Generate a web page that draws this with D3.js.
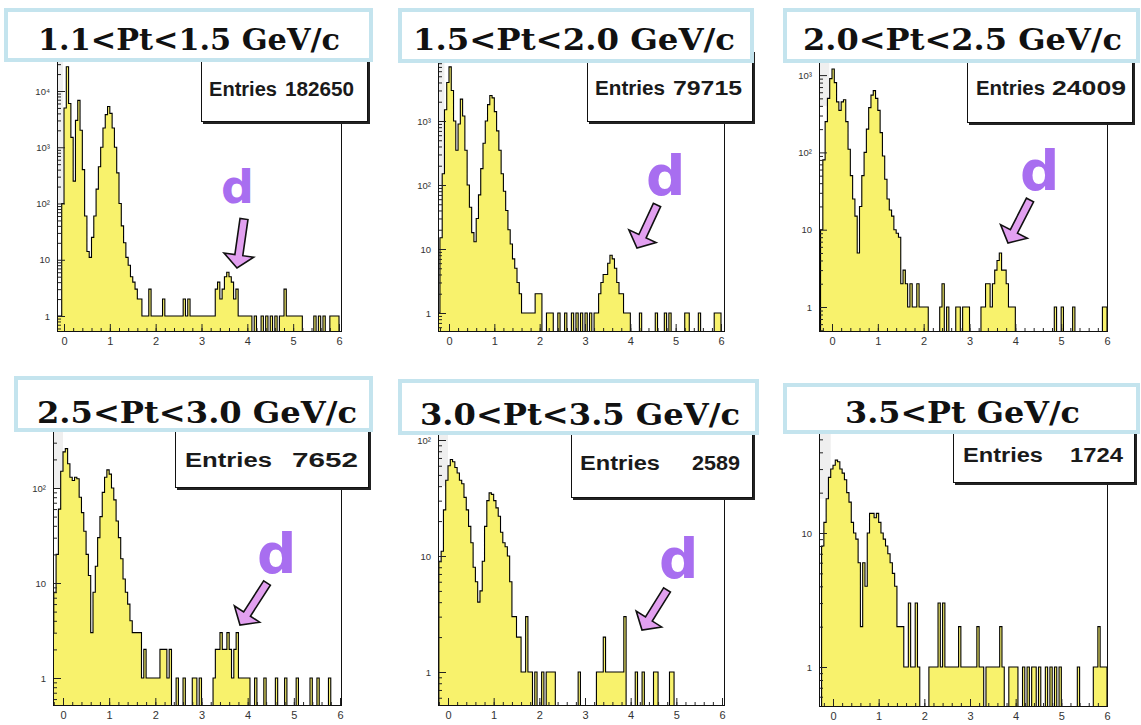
<!DOCTYPE html>
<html><head><meta charset="utf-8">
<script src="https://cdn.jsdelivr.net/npm/d3@7"></script>
<style>body{margin:0;background:#fff;} svg{display:block;}</style>
</head><body>
<svg id="chart" width="1141" height="725"></svg>
<script>
// ---------- DATA ----------
const binStart = -0.25, binWidth = 0.05;   // histogram binning (x = m^2)
const titles = ["1.1<Pt<1.5 GeV/c", "1.5<Pt<2.0 GeV/c", "2.0<Pt<2.5 GeV/c",
                "2.5<Pt<3.0 GeV/c", "3.0<Pt<3.5 GeV/c", "3.5<Pt GeV/c"];
const entries = [182650, 79715, 24009, 7652, 2589, 1724];
const xTickLabels = [0, 1, 2, 3, 4, 5, 6];
const yDecades = [[0,1,2,3,4],[0,1,2,3],[0,1,2,3],[0,1,2],[0,1,2],[0,1]];
const hasDeuteronMark = [true, true, true, true, true, false];

// counts per bin, rows of 10 bins (0.5 wide) starting at -0.25
const counts1 = [
  0, 0, 1, 1, 100, 5000, 27000, 6000, 1500, 250,
  3000, 6800, 2000, 400, 60, 14, 11, 25, 60, 180,
  450, 1000, 2200, 3800, 5300, 4000, 2200, 1000, 350, 100,
  40, 20, 11, 8, 5, 4, 3, 2, 2, 1,
  1, 1, 3, 1, 1, 1, 1, 1, 2, 1,
  1, 1, 1, 1, 1, 1, 1, 2, 1, 2,
  1, 1, 1, 1, 1, 1, 1, 1, 1, 1,
  1, 3, 4, 2, 3, 5, 6, 5, 4, 2,
  3, 1, 1, 1, 1, 1, 1, 0, 1, 0,
  0, 1, 0, 1, 0, 1, 0, 1, 0, 1,
  1, 3, 1, 1, 1, 1, 1, 1, 1, 0,
  0, 0, 0, 0, 1, 0, 1, 0, 1, 0,
  0, 1, 1, 1, 1, 0];
const counts2 = [
  1, 15, 150, 1500, 4000, 7000, 3000, 1000, 350, 900,
  2200, 1200, 350, 100, 45, 18, 13, 30, 70, 180,
  450, 1000, 1800, 2500, 2300, 1400, 700, 350, 150, 80,
  40, 20, 12, 7, 5, 3, 2, 1, 1, 1,
  1, 1, 1, 2, 2, 2, 0, 0, 1, 1,
  1, 0, 0, 1, 0, 0, 1, 0, 0, 1,
  0, 1, 0, 1, 0, 1, 0, 1, 0, 1,
  1, 2, 3, 4, 4, 6, 8, 7, 5, 3,
  2, 2, 1, 1, 1, 0, 0, 0, 0, 1,
  0, 0, 0, 0, 0, 0, 1, 0, 0, 0,
  1, 0, 1, 0, 0, 0, 0, 0, 0, 1,
  1, 0, 0, 0, 0, 1, 0, 0, 0, 0,
  0, 0, 1, 1, 1, 0];
const counts3 = [
  10, 80, 250, 500, 900, 1200, 800, 450, 350, 450,
  480, 250, 110, 50, 25, 15, 5, 20, 50, 100,
  200, 380, 550, 630, 500, 350, 180, 90, 45, 25,
  18, 15, 10, 9, 8, 2, 3, 2, 1, 2,
  1, 1, 2, 1, 1, 1, 1, 0, 0, 0,
  0, 0, 1, 2, 0, 1, 0, 0, 0, 1,
  1, 0, 1, 1, 1, 0, 0, 0, 0, 0,
  1, 1, 2, 2, 1, 2, 3, 4, 5, 3,
  3, 2, 1, 1, 1, 0, 0, 0, 0, 0,
  0, 0, 0, 0, 0, 0, 0, 0, 0, 0,
  0, 0, 1, 0, 0, 1, 0, 0, 0, 0,
  1, 0, 0, 0, 0, 0, 0, 0, 0, 0,
  0, 0, 0, 1, 1, 0];
const counts4 = [
  3, 8, 20, 60, 150, 240, 260, 180, 130, 120,
  130, 125, 80, 55, 35, 20, 12, 3, 8, 15,
  30, 50, 90, 130, 155, 140, 100, 75, 45, 30,
  18, 11, 8, 6, 4, 3, 3, 3, 3, 1,
  2, 1, 1, 1, 1, 1, 1, 2, 2, 2,
  1, 2, 0, 0, 1, 0, 0, 1, 0, 0,
  0, 1, 1, 0, 1, 0, 0, 0, 0, 0,
  1, 2, 2, 3, 2, 2, 3, 2, 1, 2,
  3, 1, 1, 1, 1, 1, 0, 0, 1, 0,
  0, 0, 1, 0, 0, 0, 0, 1, 0, 0,
  0, 1, 0, 0, 0, 0, 1, 0, 0, 0,
  0, 0, 1, 0, 0, 1, 0, 0, 0, 0,
  1, 0, 0, 0, 0, 0];
const counts5 = [
  0, 9, 11, 25, 45, 60, 68, 65, 58, 52,
  45, 42, 32, 25, 18, 13, 8, 6, 4, 5,
  9, 18, 30, 35, 34, 30, 26, 22, 16, 13,
  12, 10, 6, 3, 3, 2, 2, 1, 1, 3,
  1, 1, 0, 1, 0, 0, 1, 0, 1, 1,
  1, 1, 0, 0, 0, 0, 0, 0, 0, 0,
  0, 0, 1, 0, 0, 0, 0, 0, 0, 0,
  1, 1, 1, 2, 1, 1, 1, 1, 1, 1,
  1, 1, 3, 0, 0, 0, 0, 1, 0, 0,
  1, 0, 0, 0, 0, 1, 1, 0, 0, 0,
  0, 0, 1, 1, 0, 0, 0, 0, 0, 0,
  0, 0, 0, 0, 0, 0, 0, 0, 0, 0,
  0, 0, 0, 0, 0, 0];
const counts6 = [
  8, 12, 18, 26, 30, 32, 35, 34, 30, 28,
  25, 20, 17, 12, 10, 9, 6, 2, 6, 4,
  10, 14, 14, 13, 14, 12, 10, 9, 8, 7,
  6, 5, 4, 2, 2, 2, 1, 1, 3, 1,
  1, 3, 1, 0, 0, 0, 0, 1, 1, 1,
  1, 3, 1, 3, 1, 1, 1, 1, 1, 1,
  2, 1, 1, 1, 1, 1, 1, 1, 2, 1,
  1, 0, 1, 1, 1, 1, 1, 1, 2, 1,
  0, 0, 1, 1, 1, 1, 0, 0, 1, 0,
  1, 0, 1, 1, 0, 1, 0, 0, 1, 0,
  1, 0, 1, 0, 1, 0, 0, 0, 0, 0,
  0, 0, 1, 0, 0, 0, 0, 0, 0, 1,
  1, 2, 1, 1, 1, 0];
const allCounts = [counts1, counts2, counts3, counts4, counts5, counts6];

// ---------- LAYOUT (pixels / styling) ----------
const layout = [
 {frame:{l:57,r:342,t:60,b:332}, x0:64, x6:339, y1:316, dec:56.25, shade:[-0.02, 100],
  tbox:[4,8,373,62], ttext:[38,50,302], sbox:[201,50,368,122],
  stext:{y:96,a:[209,68],b:[285,69]}, d:{x:221,y:203,size:46}, arrow:[[244,219],[237,268]]},
 {frame:{l:438,r:725,t:60,b:332}, x0:449, x6:721, y1:313, dec:64, shade:[-0.1, 100],
  tbox:[398,8,754,63], ttext:[413,50,322], sbox:[587,50,753,122],
  stext:{y:95,a:[595,70],b:[673,69]}, d:{x:646,y:195,size:55}, arrow:[[657,205],[637,248]]},
 {frame:{l:819,r:1108,t:60,b:332}, x0:832, x6:1107, y1:307, dec:77.3, shade:[-0.06, 400],
  tbox:[783,8,1140,63], ttext:[803,50,319], sbox:[967,50,1133,123],
  stext:{y:95,a:[976,69],b:[1052,74]}, d:{x:1020,y:190,size:55}, arrow:[[1030,200],[1008,243]]},
 {frame:{l:53,r:342,t:430,b:706}, x0:63, x6:340, y1:678, dec:95, shade:[0.0, 100],
  tbox:[14,376,373,432], ttext:[37,423,320], sbox:[175,420,369,488],
  stext:{y:467,a:[185,87],b:[292,66]}, d:{x:257,y:573,size:55}, arrow:[[267,583],[240,625]]},
 {frame:{l:438,r:725,t:434,b:706}, x0:448, x6:722, y1:672, dec:116, shade:[0.0, 40],
  tbox:[398,379,759,435], ttext:[420,425,320], sbox:[571,420,753,498],
  stext:{y:470,a:[580,80],b:[692,48]}, d:{x:659,y:578,size:55}, arrow:[[667,590],[642,630]]},
 {frame:{l:819,r:1108,t:432,b:707}, x0:833, x6:1107, y1:667, dec:134, shade:[-0.05, 18],
  tbox:[783,383,1140,434], ttext:[845,423,235], sbox:[953,420,1135,483],
  stext:{y:462,a:[963,80],b:[1070,53]}, d:null, arrow:null}
];

const svg = d3.select("#chart");
const defs = svg.append("defs");
const supMap = {"0":"⁰","1":"¹","2":"²","3":"³","4":"⁴"};

layout.forEach((p, pi) => {
  const f = p.frame;
  const counts = allCounts[pi];
  const g = svg.append("g");
  const x = d3.scaleLinear().domain([0, 6]).range([p.x0, p.x6]);
  const y = d3.scaleLog().domain([1, 10]).range([p.y1, p.y1 - p.dec]);

  const clipId = "clip" + pi;
  defs.append("clipPath").attr("id", clipId).append("rect")
    .attr("x", f.l).attr("y", f.t).attr("width", f.r - f.l).attr("height", f.b - f.t);

  // faint grey shading in the upper-left corner of the frame
  g.append("rect").attr("x", f.l).attr("y", f.t)
    .attr("width", Math.max(0, x(p.shade[0]) - f.l)).attr("height", Math.max(0, y(p.shade[1]) - f.t))
    .attr("fill", "#efefef");

  // histogram step path
  const pts = [[x(binStart), f.b + 2]];
  counts.forEach((v, i) => {
    const lo = binStart + i * binWidth, hi = lo + binWidth;
    const yy = v > 0 ? y(v) : f.b + 2;
    pts.push([x(lo), yy], [x(hi), yy]);
  });
  pts.push([x(binStart + counts.length * binWidth), f.b + 2]);
  g.append("path").attr("d", d3.line()(pts))
    .attr("fill", "#f8f26c").attr("stroke", "#000").attr("stroke-width", 1.1)
    .attr("stroke-linejoin", "miter")
    .attr("clip-path", `url(#${clipId})`);

  // x axis ticks
  const xMinor = d3.range(-14, 31).map(k => k * 0.2).filter(v => x(v) > f.l + 0.5 && x(v) < f.r - 0.5);
  g.append("g").attr("transform", `translate(0,${f.b})`)
    .call(d3.axisBottom(x).tickValues(xMinor).tickSize(-4).tickFormat(""))
    .call(a => a.select(".domain").remove())
    .call(a => a.selectAll("line").attr("stroke", "#222"));
  g.append("g").attr("transform", `translate(0,${f.b})`)
    .call(d3.axisBottom(x).tickValues(xTickLabels).tickSize(-8).tickPadding(5).tickFormat(d3.format("d")))
    .call(a => a.select(".domain").remove())
    .call(a => a.selectAll("line").attr("stroke", "#222"))
    .call(a => a.selectAll("text").attr("font-family", "Liberation Sans, Arial, sans-serif")
                 .attr("font-size", 11).attr("fill", "#333"));

  // y axis ticks (log)
  const yTop = y.invert(f.t), yBot = y.invert(f.b);
  const yMinor = [];
  for (let k = -1; k <= 5; k++) for (let m = 2; m <= 9; m++) {
    const v = m * Math.pow(10, k);
    if (v > yBot && v < yTop) yMinor.push(v);
  }
  g.append("g").attr("transform", `translate(${f.l},0)`)
    .call(d3.axisLeft(y).tickValues(yMinor).tickSize(-4).tickFormat(""))
    .call(a => a.select(".domain").remove())
    .call(a => a.selectAll("line").attr("stroke", "#222"));
  const yMajor = yDecades[pi].map(k => Math.pow(10, k));
  g.append("g").attr("transform", `translate(${f.l},0)`)
    .call(d3.axisLeft(y).tickValues(yMajor).tickSize(-8).tickPadding(7)
          .tickFormat(v => { const k = Math.round(Math.log10(v)); return k === 0 ? "1" : k === 1 ? "10" : "10" + supMap[k]; }))
    .call(a => a.select(".domain").remove())
    .call(a => a.selectAll("line").attr("stroke", "#222"))
    .call(a => a.selectAll("text").attr("font-family", "Liberation Sans, Arial, sans-serif")
                 .attr("font-size", 9.5).attr("fill", "#333"));

  // frame
  g.append("rect").attr("x", f.l + 0.5).attr("y", f.t + 0.5)
    .attr("width", f.r - f.l - 1).attr("height", f.b - f.t - 1)
    .attr("fill", "none").attr("stroke", "#111").attr("stroke-width", 1);

  // stats box
  const s = p.sbox;
  g.append("rect").attr("x", s[0] + 2).attr("y", s[1] + 2).attr("width", s[2] - s[0]).attr("height", s[3] - s[1])
    .attr("fill", "#222");
  g.append("rect").attr("x", s[0] + 0.5).attr("y", s[1] + 0.5).attr("width", s[2] - s[0] - 1).attr("height", s[3] - s[1] - 1)
    .attr("fill", "#fff").attr("stroke", "#111").attr("stroke-width", 1);
  g.append("text").attr("x", p.stext.a[0]).attr("y", p.stext.y)
    .attr("textLength", p.stext.a[1]).attr("lengthAdjust", "spacingAndGlyphs")
    .attr("font-family", "Liberation Sans, Arial, sans-serif").attr("font-weight", "bold")
    .attr("font-size", 20).attr("fill", "#1a1a1a").text("Entries");
  g.append("text").attr("x", p.stext.b[0]).attr("y", p.stext.y)
    .attr("textLength", p.stext.b[1]).attr("lengthAdjust", "spacingAndGlyphs")
    .attr("font-family", "Liberation Sans, Arial, sans-serif").attr("font-weight", "bold")
    .attr("font-size", 20).attr("fill", "#1a1a1a").text(String(entries[pi]));

  // title box
  const t = p.tbox;
  g.append("rect").attr("x", t[0] + 2).attr("y", t[1] + 2).attr("width", t[2] - t[0] - 4).attr("height", t[3] - t[1] - 4)
    .attr("fill", "#fff").attr("stroke", "#c4e4ee").attr("stroke-width", 4);
  g.append("text").attr("x", p.ttext[0]).attr("y", p.ttext[1])
    .attr("textLength", p.ttext[2]).attr("lengthAdjust", "spacingAndGlyphs")
    .attr("font-family", "DejaVu Serif, serif").attr("font-weight", "bold")
    .attr("font-size", 30).attr("fill", "#111").text(titles[pi]);

  // deuteron marker
  if (hasDeuteronMark[pi] && p.d) {
    g.append("text").attr("x", p.d.x).attr("y", p.d.y)
      .attr("font-family", "DejaVu Sans, sans-serif").attr("font-weight", "bold")
      .attr("font-size", p.d.size).attr("fill", "#a86ef0").text("d");
    const [tail, tip] = p.arrow;
    const dx = tip[0] - tail[0], dy = tip[1] - tail[1], L = Math.hypot(dx, dy);
    const ux = dx / L, uy = dy / L, nx = -uy, ny = ux;
    const hw = 4, hh = 15, hl = 13;
    const bx = tip[0] - ux * hl, by = tip[1] - uy * hl;
    const poly = [
      [tail[0] + nx * hw, tail[1] + ny * hw],
      [bx + nx * hw, by + ny * hw],
      [bx + nx * hh, by + ny * hh],
      tip,
      [bx - nx * hh, by - ny * hh],
      [bx - nx * hw, by - ny * hw],
      [tail[0] - nx * hw, tail[1] - ny * hw]
    ];
    g.append("path").attr("d", d3.line()(poly) + "Z")
      .attr("fill", "#e2a0f0").attr("stroke", "#111").attr("stroke-width", 1.6)
      .attr("stroke-linejoin", "miter");
  }
});
</script>
</body></html>
